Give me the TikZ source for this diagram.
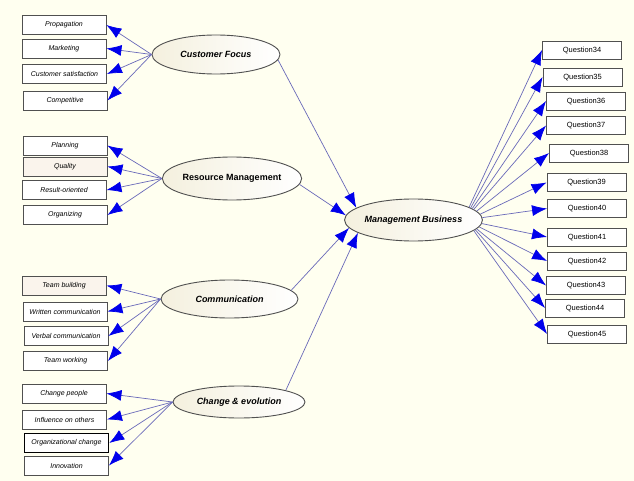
\documentclass[tikz,border=0pt]{standalone}
\usepackage{fontspec}
\setmainfont{Liberation Sans}
\usetikzlibrary{shapes,arrows.meta,positioning}
\definecolor{paper}{RGB}{255,255,240}
\definecolor{shade}{RGB}{244,240,222}
\definecolor{tint}{RGB}{250,244,236}
\definecolor{rim}{RGB}{80,80,80}
\definecolor{edgeblue}{RGB}{105,105,185}
\definecolor{tipblue}{RGB}{0,0,235}
\tikzstyle{item}=[rectangle,draw=rim,line width=0.9pt,fill=white,minimum width=84pt,minimum height=19pt,inner sep=0pt,font=\fontsize{7}{8}\selectfont\itshape]
\tikzstyle{itemtint}=[item,fill=tint]
\tikzstyle{itemsel}=[item,draw=black,line width=1.6pt]
\tikzstyle{question}=[rectangle,draw=rim,line width=0.9pt,fill=white,minimum width=79pt,minimum height=18pt,inner sep=0pt,font=\fontsize{7.5}{9}\selectfont]
\tikzstyle{factor}=[ellipse,draw=rim,line width=0.9pt,left color=shade,right color=white,inner sep=0pt,font=\fontsize{9}{11}\selectfont\bfseries\itshape]
\tikzstyle{load}=[draw=edgeblue,line width=0.7pt,-{Latex[length=15pt,width=11pt,color=tipblue]}]

\begin{document}
\begin{tikzpicture}[x=1pt,y=-1pt]

  \fill[paper] (0,0) rectangle (634,481);
  \useasboundingbox (0,0) rectangle (634,481);

  \foreach \name/\lbl/\x/\y/\w/\h in {cf/Customer Focus/216/54.5/128/39,
      rm/{\upshape Resource Management}/232/178.5/139/43,
      comm/Communication/229.5/299/137/38,
      ce/Change \& evolution/239/402/132/32,
      mb/Management Business/413.5/220/137/42}
    \node[factor,minimum width=\w pt,minimum height=\h pt] (F-\name) at (\x,\y) {\lbl};

  \foreach \name/\lbl/\x/\y/\f/\sty in {prop/Propagation/64/25/cf/item,
      mark/Marketing/64/48.5/cf/item,
      sat/Customer satisfaction/64.5/74/cf/item,
      comp/Competitive/65/100.5/cf/item,
      plan/Planning/65/145.5/rm/item,
      qual/Quality/65/166.5/rm/itemtint,
      res/Result-oriented/64/190/rm/item,
      orga/Organizing/65/215/rm/item,
      build/Team building/64/285.5/comm/itemtint,
      writ/Written communication/65/311.5/comm/item,
      verb/Verbal communication/66/336/comm/item,
      work/Team working/65.5/361/comm/item,
      peop/Change people/64/393.5/ce/item,
      infl/Influence on others/64.5/419.5/ce/item,
      org/Organizational change/66.5/443/ce/itemsel,
      inno/Innovation/66.5/465.5/ce/item}{
    \node[\sty] (I-\name) at (\x,\y) {\lbl};
    \draw[load] (F-\f.west) -- (I-\name.east);
  }

  \draw[load] (F-cf.-5) -- (F-mb.168);
  \draw[load] (F-rm.-5) -- (F-mb.176);
  \draw[load] (F-comm.8) -- (F-mb.187);
  \draw[load] (F-ce.14) -- (F-mb.193);

  \foreach \n/\x/\y/\a in {34/582/50/13, 35/582.5/77/12, 36/586/101/11,
      37/586/125.5/10, 38/589/153/8, 39/586.5/182.5/5, 40/587/208.5/2,
      41/587/237/-3, 42/587/261/-6, 43/586/285.5/-8, 44/585/308/-9,
      45/587/334/-10}{
    \node[question] (Q-\n) at (\x,\y) {Question\n};
    \draw[load] (F-mb.\a) -- (Q-\n.west);
  }

\end{tikzpicture}
\end{document}
